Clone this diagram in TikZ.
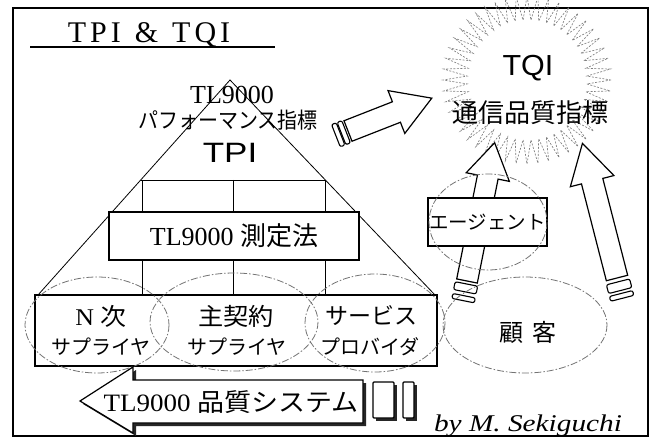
\documentclass[tikz,border=0pt]{standalone}
\usepackage{fontspec}
\setmainfont{Liberation Serif}
\newfontfamily\jp{Noto Sans CJK JP}
\newfontfamily\arial{Liberation Sans}
\newcommand\fs[1]{\fontsize{#1}{#1}\selectfont}
% name, x, y, angle, length, shaft half width, head half width, head length, rings
\newcommand\BArrow[9]{%
  \coordinate (#1) at (#2,#3);
  \begin{scope}[shift={(#1)}, rotate=#4]
    \draw[blockarr] (0,-#6) -- ({#5-#8},-#6) -- ({#5-#8},-#7) -- (#5,0)
      -- ({#5-#8},#7) -- ({#5-#8},#6) -- (0,#6) -- cycle;
    \foreach \a/\b in {#9} {\draw[ring] (\a,{-#6-1}) rectangle (\b,{#6+1});}
  \end{scope}}
\begin{document}
\begin{tikzpicture}[x=1pt,y=-1pt,
  frame/.style={line width=1.2pt},
  pyr/.style={line width=0.8pt},
  boxline/.style={draw, line width=1.2pt, fill=white, inner sep=0pt},
  blockarr/.style={draw, fill=white, line width=1.2pt, line join=miter},
  ring/.style={draw, fill=white, line width=1.1pt, rounded corners=2pt},
  dashell/.style={draw=black!55, line width=0.8pt, dash pattern=on 7pt off 2pt on 1.5pt off 2pt},
  burst/.style={draw=black!50, line width=0.65pt, dash pattern=on 2pt off 1.5pt},
  lbl/.style={inner sep=0pt, outer sep=0pt, align=center}]

\useasboundingbox (0,0) rectangle (653,438);
\fill[white] (0,0) rectangle (653,438);

% frame
\draw[frame] (13,8) rectangle (648,436);

% title
\node[lbl, anchor=base] (title) at (149,43) {\fs{30}T\kern4pt P\kern4pt I\kern14pt\&\kern14pt T\kern4pt Q\kern4pt I};
\draw[line width=1.1pt] (30,47) -- (275,47);

% starburst around TQI
\draw[burst] (611,80) \foreach \i in {1,...,96} {
  -- ({527+(72+12*(1-2*mod(\i,2)))*cos(\i*3.75)}, {80+(72+12*(1-2*mod(\i,2)))*sin(\i*3.75)}) } -- cycle;

% pyramid
\coordinate (apex) at (230,80);
\draw[pyr] (38,295) -- (apex) -- (435,295);
\draw[pyr] (141,180) -- (325,180);
\foreach \x in {142,233,325} {
  \draw[pyr] (\x,180) -- (\x,212);
  \draw[pyr] (\x,260) -- (\x,295);
}

% measurement box
\node[boxline, minimum width=250, minimum height=48] (meas) at (234,236)
  {\fs{26}TL9000 {\jp 測定法}};

% bottom box
\node[boxline, minimum width=402, minimum height=71] (base) at (236,330.5) {};
\node[lbl] (n1) at (101,316) {\scalebox{1.08}[1]{\fs{24}N {\jp 次}}};
\node[lbl] (n2) at (101,347) {\fs{20}\jp サプライヤ};
\node[lbl] (m1) at (236,316) {\scalebox{1.05}[1]{\fs{24}\jp 主契約}};
\node[lbl] (m2) at (237,347) {\fs{20}\jp サプライヤ};
\node[lbl] (s1) at (371,316) {\fs{23}\jp サービス};
\node[lbl] (s2) at (370,347) {\fs{20}\jp プロバイダ};

% block arrows
\BArrow{tailA}{348}{131}{21.4}{90}{11}{23}{38}{-2/-7,-8/-13}
\BArrow{tailB}{467}{281}{78.7}{141}{10.5}{22}{35}{-3/-11,-15/-20}
\BArrow{tailC}{617}{278}{104.4}{139}{11}{22.5}{39}{-4/-13,-16/-21}

% agent box
\node[boxline, minimum width=119, minimum height=48] (agent) at (487.5,222)
  {\fs{19.5}\jp エージェント};

% dashed ellipses
\draw[dashell] (97,325) ellipse [x radius=72, y radius=48];
\draw[dashell] (234,322) ellipse [x radius=84, y radius=49];
\draw[dashell] (375,323) ellipse [x radius=70, y radius=49];
\draw[dashell] (525,325) ellipse [x radius=82, y radius=48];
\draw[dashell] (488,222) ellipse [x radius=59, y radius=48];

\node[lbl] (cust) at (528,332) {\fs{24}\jp 顧\kern10pt 客};

% bottom quality-system arrow with shadow
\fill[black!85] (83,404) -- (136,370) -- (136,383) -- (366,383) -- (366,426)
  -- (136,426) -- (136,436) -- cycle;
\draw[blockarr] (80,401) -- (133,367) -- (133,380) -- (363,380) -- (363,423)
  -- (133,423) -- (133,433) -- cycle;
\node[lbl] (qs) at (231,402) {\scalebox{1.08}[1]{\fs{25}TL9000 {\jp 品質システム}}};
\fill[black!85] (376,385) rectangle (397,421);
\draw[line width=1.1pt, fill=white, rounded corners=1pt] (373,382) rectangle (394,418);
\fill[black!85] (406,385) rectangle (417,421);
\draw[line width=1.1pt, fill=white, rounded corners=1pt] (403,382) rectangle (414,418);

% pyramid texts
\node[lbl, anchor=base] (tl) at (232,104) {\fs{26}TL9000};
\node[lbl] (perf) at (228,120) {\scalebox{1}[1.1]{\fs{20}\jp パフォーマンス指標}};
\node[lbl] (tpi) at (230,153) {\scalebox{1.25}[1]{\fs{28}\arial TPI}};

% TQI texts
\node[lbl] (tqi) at (528,68) {\scalebox{1.05}[1]{\fs{29}\arial TQI}};
\node[lbl] (tqij) at (530,113) {\fs{26}\jp 通信品質指標};

% author
\node[lbl, anchor=base] (by) at (528,431) {\scalebox{1.22}[1]{\fs{24}\itshape by M. Sekiguchi}};
\end{tikzpicture}
\end{document}
